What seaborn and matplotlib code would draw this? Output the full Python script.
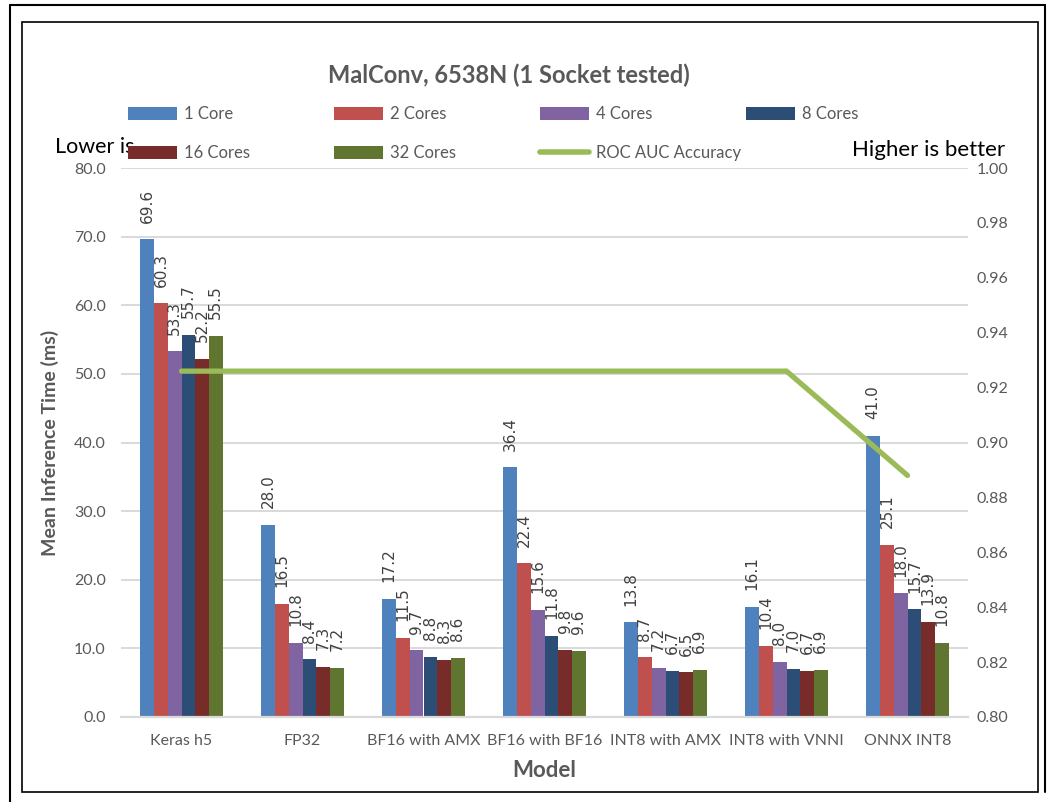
import matplotlib
matplotlib.use("Agg")
import matplotlib.pyplot as plt
from matplotlib.patches import Patch, Rectangle
from matplotlib.lines import Line2D
import seaborn as sns
import pandas as pd
import numpy as np

# ---- data -------------------------------------------------------------
models = ["Keras h5", "FP32", "BF16 with AMX", "BF16 with BF16",
          "INT8 with AMX", "INT8 with VNNI", "ONNX INT8"]
core_labels = ["1 Core", "2 Cores", "4 Cores", "8 Cores", "16 Cores", "32 Cores"]

t_1core = [69.6, 28.0, 17.2, 36.4, 13.8, 16.1, 41.0]
t_2cores = [60.3, 16.5, 11.5, 22.4, 8.7, 10.4, 25.1]
t_4cores = [53.3, 10.8, 9.7, 15.6, 7.2, 8.0, 18.0]
t_8cores = [55.7, 8.4, 8.8, 11.8, 6.7, 7.0, 15.7]
t_16cores = [52.2, 7.3, 8.3, 9.8, 6.5, 6.7, 13.9]
t_32cores = [55.5, 7.2, 8.6, 9.6, 6.9, 6.9, 10.8]

roc_auc = [0.926, 0.926, 0.926, 0.926, 0.926, 0.926, 0.888]

left_ticks = [0, 10, 20, 30, 40, 50, 60, 70, 80]
right_ticks = [0.80, 0.82, 0.84, 0.86, 0.88, 0.90, 0.92, 0.94, 0.96, 0.98, 1.00]

colors = ["#4F81BD", "#C0504D", "#8064A2", "#2C4D75", "#772C2A", "#5F7530"]
line_color = "#9BBB59"
text_gray = "#595959"

series = [t_1core, t_2cores, t_4cores, t_8cores, t_16cores, t_32cores]
df = pd.DataFrame({
    "Model": np.repeat([models], len(core_labels), axis=0).ravel(),
    "Cores": np.repeat(core_labels, len(models)),
    "Time": np.concatenate(series),
})

# ---- figure -----------------------------------------------------------
sns.set_theme(style="white")
plt.rcParams["font.family"] = ["Lato", "DejaVu Sans"]

fig = plt.figure(figsize=(10.5, 8.02), dpi=100)
ax = fig.add_axes([121 / 1050, 1 - 717 / 802, 847 / 1050, 549 / 802])

sns.barplot(data=df, x="Model", y="Time", hue="Cores", order=models,
            hue_order=core_labels, palette=colors, saturation=1,
            width=0.68, linewidth=0, legend=False, ax=ax, zorder=2)

# value labels above every bar
for cont in ax.containers:
    ax.bar_label(cont, fmt="%.1f", rotation=90, padding=12, fontsize=11,
                 color="#404040", family="DejaVu Sans")

ax.set_ylim(0, 80)
ax.set_xlim(-0.5, len(models) - 0.5)
ax.set_yticks(left_ticks)
ax.set_yticklabels([f"{v:.1f}" for v in left_ticks])
ax.yaxis.grid(True, color="#D9D9D9", linewidth=1.4, zorder=0)
ax.set_axisbelow(True)
for s in ["top", "right", "left"]:
    ax.spines[s].set_visible(False)
ax.spines["bottom"].set_color("#D9D9D9")
ax.spines["bottom"].set_linewidth(1.6)
ax.tick_params(axis="y", length=0, pad=11, labelsize=11.5, labelcolor=text_gray)
ax.tick_params(axis="x", length=0, pad=12, labelsize=11.5, labelcolor=text_gray)
ax.set_xlabel("Model", fontsize=16, fontweight="bold", color=text_gray, labelpad=9)
ax.set_ylabel("Mean Inference Time (ms)", fontsize=14, fontweight="bold",
              color=text_gray, labelpad=11)

# accuracy on the secondary axis
ax2 = ax.twinx()
sns.lineplot(x=np.arange(len(models)), y=roc_auc, ax=ax2, color=line_color,
             linewidth=3.8, solid_capstyle="round", solid_joinstyle="miter")
ax2.set_ylim(0.80, 1.00)
ax2.set_yticks(right_ticks)
ax2.set_yticklabels([f"{v:.2f}" for v in right_ticks])
ax2.tick_params(axis="y", length=0, pad=6, labelsize=11.5, labelcolor=text_gray)
for s in ["top", "right", "left", "bottom"]:
    ax2.spines[s].set_visible(False)
ax2.grid(False)

# title
fig.text(509 / 1050, 1 - 75 / 802, "MalConv, 6538N (1 Socket tested)",
         ha="center", va="center", fontsize=17, fontweight="bold", color=text_gray)

# legend, laid out in two rows of fixed-width columns
entries = [Patch(facecolor=c, edgecolor="none") for c in colors]
entries.append(Line2D([0], [0], color=line_color, linewidth=4, solid_capstyle="round"))
names = core_labels + ["ROC AUC Accuracy"]
col_x = [120, 326, 532, 738]
row_y = [114, 153]
for i, (h, n) in enumerate(zip(entries, names)):
    r, c = divmod(i, 4)
    fig.legend(handles=[h], labels=[n], loc="center left",
               bbox_to_anchor=(col_x[c] / 1050, 1 - row_y[r] / 802),
               frameon=False, fontsize=12, handlelength=2.9,
               handleheight=0.8, handletextpad=0.45, borderpad=0,
               labelcolor=text_gray)

fig.text(55 / 1050, 1 - 147 / 802, "Lower is", ha="left", va="center",
         fontsize=15.5, color="black", zorder=0)
fig.text(1005 / 1050, 1 - 150 / 802, "Higher is better", ha="right",
         va="center", fontsize=16, color="black")

# chart frames
fig.patches.append(Rectangle((22 / 1050, 1 - 792 / 802), 1016 / 1050, 770 / 802,
                             transform=fig.transFigure, fill=False,
                             edgecolor="black", linewidth=1.2, zorder=10))
fig.lines.append(Line2D([10 / 1050, 10 / 1050], [0, 1 - 5 / 802],
                        transform=fig.transFigure, color="black", linewidth=1.5))
fig.lines.append(Line2D([10 / 1050, 1045 / 1050], [1 - 5 / 802, 1 - 5 / 802],
                        transform=fig.transFigure, color="black", linewidth=1.5))
fig.lines.append(Line2D([1045 / 1050, 1045 / 1050], [1 - 5 / 802, 1 - 792 / 802],
                        transform=fig.transFigure, color="black", linewidth=1.5))

fig.savefig("out.png", dpi=100, facecolor="white")
